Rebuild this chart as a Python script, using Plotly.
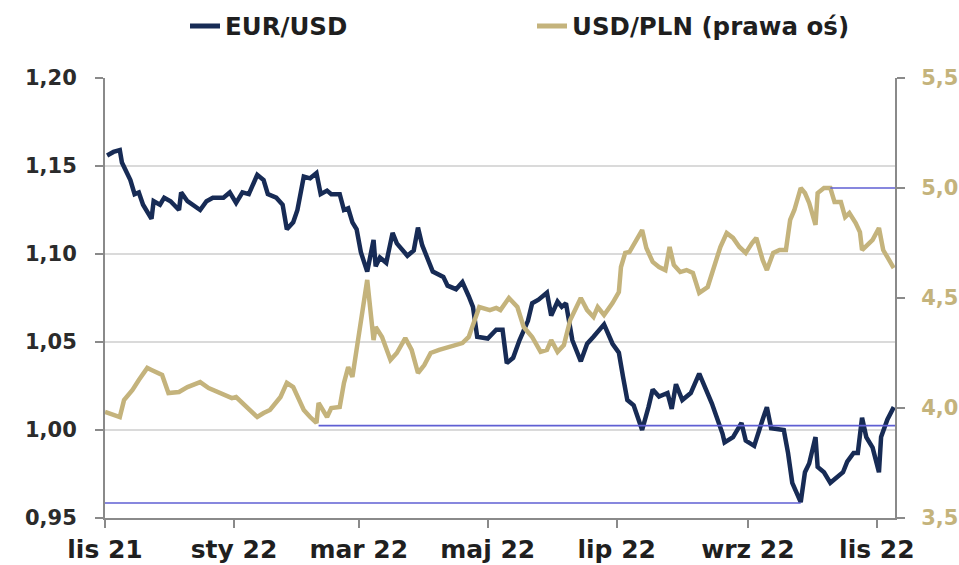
import plotly.graph_objects as go

# ---------------- data ----------------
eur_dates = [
    "2021-11-02", "2021-11-05", "2021-11-08", "2021-11-09", "2021-11-13", "2021-11-15",
    "2021-11-17", "2021-11-19", "2021-11-23", "2021-11-24", "2021-11-27", "2021-11-29",
    "2021-12-02", "2021-12-06", "2021-12-07", "2021-12-10", "2021-12-16", "2021-12-19",
    "2021-12-22", "2021-12-27", "2021-12-30", "2022-01-02", "2022-01-05", "2022-01-08",
    "2022-01-12", "2022-01-15", "2022-01-17", "2022-01-21", "2022-01-24", "2022-01-26",
    "2022-01-29", "2022-01-31", "2022-02-03", "2022-02-06", "2022-02-09", "2022-02-11",
    "2022-02-14", "2022-02-16", "2022-02-20", "2022-02-22", "2022-02-24", "2022-02-26",
    "2022-02-28", "2022-03-02", "2022-03-05", "2022-03-08", "2022-03-09", "2022-03-11",
    "2022-03-14", "2022-03-17", "2022-03-19", "2022-03-24", "2022-03-27", "2022-03-29",
    "2022-03-31", "2022-04-05", "2022-04-10", "2022-04-12", "2022-04-16", "2022-04-19",
    "2022-04-22", "2022-04-24", "2022-04-26", "2022-05-01", "2022-05-05", "2022-05-08",
    "2022-05-10", "2022-05-13", "2022-05-16", "2022-05-20", "2022-05-22", "2022-05-25",
    "2022-05-29", "2022-05-31", "2022-06-03", "2022-06-05", "2022-06-07", "2022-06-10",
    "2022-06-14", "2022-06-17", "2022-06-20", "2022-06-23", "2022-06-25", "2022-06-29",
    "2022-07-02", "2022-07-04", "2022-07-06", "2022-07-09", "2022-07-13", "2022-07-16",
    "2022-07-18", "2022-07-21", "2022-07-25", "2022-07-27", "2022-07-29", "2022-08-01",
    "2022-08-05", "2022-08-09", "2022-08-12", "2022-08-15", "2022-08-20", "2022-08-21",
    "2022-08-25", "2022-08-29", "2022-08-31", "2022-09-04", "2022-09-08", "2022-09-10",
    "2022-09-12", "2022-09-18", "2022-09-20", "2022-09-22", "2022-09-26", "2022-09-28",
    "2022-09-30", "2022-10-03", "2022-10-04", "2022-10-07", "2022-10-10", "2022-10-13",
    "2022-10-16", "2022-10-18", "2022-10-21", "2022-10-23", "2022-10-25", "2022-10-27",
    "2022-10-30", "2022-11-02", "2022-11-03", "2022-11-06", "2022-11-09",
]
eur_usd = [
    1.156, 1.158, 1.159, 1.152, 1.142, 1.134,
    1.135, 1.128, 1.120, 1.130, 1.128, 1.132,
    1.130, 1.125, 1.135, 1.130, 1.125, 1.130,
    1.132, 1.132, 1.135, 1.129, 1.135, 1.134,
    1.145, 1.142, 1.134, 1.132, 1.128, 1.114,
    1.118, 1.125, 1.144, 1.143, 1.146, 1.134,
    1.136, 1.134, 1.134, 1.125, 1.126, 1.118,
    1.114, 1.101, 1.090, 1.108, 1.093, 1.098,
    1.095, 1.112, 1.106, 1.099, 1.102, 1.115,
    1.105, 1.090, 1.087, 1.082, 1.080, 1.084,
    1.076, 1.070, 1.053, 1.052, 1.057, 1.057,
    1.038, 1.041, 1.051, 1.062, 1.072, 1.074,
    1.078, 1.065, 1.073, 1.070, 1.072, 1.051,
    1.039, 1.049, 1.053, 1.057, 1.060, 1.049,
    1.044, 1.030, 1.017, 1.014, 1.000, 1.013,
    1.023, 1.019, 1.021, 1.012, 1.026, 1.017,
    1.021, 1.032, 1.023, 1.015, 0.998, 0.993,
    0.996, 1.004, 0.994, 0.991, 1.006, 1.013,
    1.001, 1.000, 0.987, 0.970, 0.959, 0.976,
    0.981, 0.996, 0.979, 0.976, 0.970, 0.973,
    0.976, 0.982, 0.987, 0.987, 1.007, 0.996,
    0.990, 0.976, 0.996, 1.006, 1.013,
]

pln_dates = [
    "2021-11-01", "2021-11-05", "2021-11-08", "2021-11-10", "2021-11-14", "2021-11-17",
    "2021-11-21", "2021-11-23", "2021-11-28", "2021-12-01", "2021-12-06", "2021-12-10",
    "2021-12-13", "2021-12-16", "2021-12-20", "2021-12-25", "2021-12-31", "2022-01-02",
    "2022-01-07", "2022-01-12", "2022-01-15", "2022-01-18", "2022-01-23", "2022-01-26",
    "2022-01-29", "2022-01-31", "2022-02-03", "2022-02-06", "2022-02-09", "2022-02-10",
    "2022-02-14", "2022-02-16", "2022-02-20", "2022-02-22", "2022-02-24", "2022-02-26",
    "2022-02-28", "2022-03-02", "2022-03-05", "2022-03-08", "2022-03-09", "2022-03-12",
    "2022-03-16", "2022-03-19", "2022-03-23", "2022-03-26", "2022-03-29", "2022-04-01",
    "2022-04-04", "2022-04-08", "2022-04-12", "2022-04-16", "2022-04-19", "2022-04-22",
    "2022-04-25", "2022-04-27", "2022-05-02", "2022-05-05", "2022-05-07", "2022-05-11",
    "2022-05-15", "2022-05-18", "2022-05-22", "2022-05-26", "2022-05-29", "2022-05-31",
    "2022-06-03", "2022-06-06", "2022-06-09", "2022-06-11", "2022-06-14", "2022-06-17",
    "2022-06-20", "2022-06-22", "2022-06-25", "2022-06-29", "2022-07-02", "2022-07-03",
    "2022-07-05", "2022-07-07", "2022-07-10", "2022-07-13", "2022-07-15", "2022-07-18",
    "2022-07-21", "2022-07-24", "2022-07-26", "2022-07-28", "2022-07-31", "2022-08-03",
    "2022-08-06", "2022-08-09", "2022-08-13", "2022-08-15", "2022-08-19", "2022-08-22",
    "2022-08-25", "2022-08-28", "2022-08-31", "2022-09-03", "2022-09-05", "2022-09-08",
    "2022-09-10", "2022-09-13", "2022-09-16", "2022-09-19", "2022-09-21", "2022-09-23",
    "2022-09-26", "2022-09-28", "2022-09-30", "2022-10-03", "2022-10-04", "2022-10-07",
    "2022-10-10", "2022-10-12", "2022-10-15", "2022-10-17", "2022-10-19", "2022-10-22",
    "2022-10-24", "2022-10-25", "2022-10-28", "2022-10-30", "2022-11-02", "2022-11-04",
    "2022-11-06", "2022-11-09",
]
usd_pln = [
    3.982, 3.968, 3.959, 4.036, 4.082, 4.127,
    4.182, 4.173, 4.150, 4.068, 4.073, 4.095,
    4.105, 4.118, 4.091, 4.068, 4.045, 4.050,
    4.005, 3.959, 3.977, 3.991, 4.050, 4.114,
    4.095, 4.050, 3.991, 3.959, 3.932, 4.023,
    3.959, 4.000, 4.005, 4.114, 4.186, 4.141,
    4.264, 4.386, 4.582, 4.309, 4.368, 4.323,
    4.218, 4.250, 4.318, 4.264, 4.159, 4.195,
    4.250, 4.264, 4.277, 4.286, 4.295, 4.323,
    4.400, 4.459, 4.445, 4.455, 4.445, 4.500,
    4.459, 4.368, 4.323, 4.255, 4.264, 4.309,
    4.255, 4.286, 4.400, 4.445, 4.500, 4.445,
    4.414, 4.459, 4.423, 4.477, 4.527, 4.641,
    4.705, 4.709, 4.764, 4.809, 4.727, 4.664,
    4.641, 4.627, 4.732, 4.650, 4.618, 4.627,
    4.614, 4.523, 4.550, 4.614, 4.732, 4.795,
    4.773, 4.732, 4.705, 4.750, 4.773, 4.673,
    4.627, 4.705, 4.718, 4.718, 4.855, 4.900,
    5.000, 4.977, 4.932, 4.832, 4.977, 5.000,
    5.000, 4.936, 4.936, 4.868, 4.886, 4.841,
    4.800, 4.718, 4.750, 4.764, 4.818, 4.718,
    4.686, 4.636,
]

# reference (min / max) levels
eur_min_level = 0.9585
eur_min_dates = ["2021-11-01", "2022-09-26"]
pln_low_level = 3.92
pln_low_dates = ["2022-02-10", "2022-11-09 14:00"]
pln_high_level = 5.0
pln_high_dates = ["2022-10-10", "2022-11-09 14:00"]

x_range = ["2021-11-01", "2022-11-09 14:00"]
tick_dates = ["2021-11-01", "2022-01-01", "2022-03-01", "2022-05-01",
              "2022-07-01", "2022-09-01", "2022-11-01"]
tick_labels = ["lis 21", "sty 22", "mar 22", "maj 22", "lip 22", "wrz 22", "lis 22"]
left_ticks = [0.95, 1.00, 1.05, 1.10, 1.15, 1.20]
right_ticks = [3.5, 4.0, 4.5, 5.0, 5.5]

# ---------------- style ----------------
NAVY = "#172b55"
GOLD = "#c4b37c"
REF = "#5f5fd3"
AXIS = "#8a8a8a"
GRID = "#dadada"
FONT = "DejaVu Sans"

fig = go.Figure()
fig.add_trace(go.Scatter(x=eur_dates, y=eur_usd, name="EUR/USD", mode="lines",
                         line=dict(color=NAVY, width=4.5), yaxis="y"))
fig.add_trace(go.Scatter(x=pln_dates, y=usd_pln, name="USD/PLN (prawa oś)", mode="lines",
                         line=dict(color=GOLD, width=4.5), yaxis="y2"))
fig.add_trace(go.Scatter(x=eur_min_dates, y=[eur_min_level] * len(eur_min_dates),
                         mode="lines", line=dict(color=REF, width=1.6),
                         showlegend=False, hoverinfo="skip", yaxis="y"))
fig.add_trace(go.Scatter(x=pln_low_dates, y=[pln_low_level] * len(pln_low_dates),
                         mode="lines", line=dict(color=REF, width=1.6),
                         showlegend=False, hoverinfo="skip", yaxis="y2"))
fig.add_trace(go.Scatter(x=pln_high_dates, y=[pln_high_level] * len(pln_high_dates),
                         mode="lines", line=dict(color=REF, width=1.6),
                         showlegend=False, hoverinfo="skip", yaxis="y2"))

fig.update_layout(
    width=959, height=565,
    margin=dict(l=105, r=64, t=78, b=47),
    paper_bgcolor="white", plot_bgcolor="white",
    separators=", ",
    showlegend=True,
    legend=dict(orientation="h", xref="container", yref="container",
                x=185 / 959, y=1 - 26 / 565, xanchor="left", yanchor="middle",
                entrywidth=302, entrywidthmode="pixels",
                font=dict(family=FONT, size=24.5, color="#1f1f1f", weight="bold"),
                bgcolor="rgba(0,0,0,0)", itemsizing="constant"),
    xaxis=dict(type="date", range=x_range, tickvals=tick_dates, ticktext=tick_labels,
               showgrid=False, showline=True, linecolor=AXIS, linewidth=2,
               ticks="outside", ticklen=8, tickwidth=2, tickcolor=AXIS,
               tickfont=dict(family=FONT, size=25, color="#1f1f1f", weight="bold"),
               zeroline=False, automargin=False),
    yaxis=dict(range=[0.95, 1.20], tickvals=left_ticks, tickformat=".2f",
               showgrid=True, gridcolor=GRID, gridwidth=2,
               showline=True, linecolor=AXIS, linewidth=2,
               ticks="outside", ticklen=8, tickwidth=2, tickcolor=AXIS,
               ticklabelstandoff=14,
               tickfont=dict(family=FONT, size=21, color="#2b2b2b", weight="bold"),
               zeroline=False, automargin=False),
    yaxis2=dict(range=[3.5, 5.5], tickvals=right_ticks, tickformat=".1f",
                overlaying="y", side="right", showgrid=False,
                showline=True, linecolor=AXIS, linewidth=2,
                ticks="outside", ticklen=8, tickwidth=2, tickcolor=AXIS,
                ticklabelstandoff=12,
                tickfont=dict(family=FONT, size=21, color=GOLD, weight="bold"),
                zeroline=False, automargin=False),
)

fig.write_html("out.html", config={"displayModeBar": False},
               post_script="document.body.style.margin='0';")
